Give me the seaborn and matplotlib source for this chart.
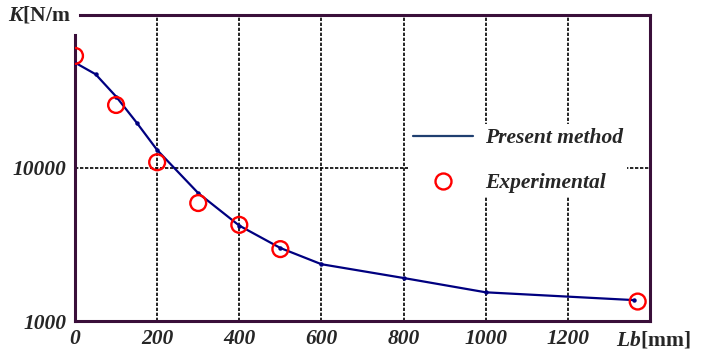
import matplotlib
matplotlib.use("Agg")
import matplotlib.pyplot as plt
from matplotlib.lines import Line2D
import seaborn as sns
import pandas as pd

# Stiffness K versus length Lb
calc_lb = [0, 50, 100, 150, 200, 300, 400, 500, 600, 800, 1000, 1360]
calc_k = [48800, 41000, 29300, 19800, 13100, 6850, 4200, 3000, 2350, 1910, 1540, 1370]

exp_lb = [0, 100, 200, 300, 400, 500, 1370]
exp_k = [54000, 25800, 10900, 5900, 4250, 2950, 1340]

x_ticks = [0, 200, 400, 600, 800, 1000, 1200]
y_ticks = [1000, 10000]
y_tick_labels = ["1000", "10000"]

FS = 15.5

sns.set_theme(style="white")
plt.rcParams["font.family"] = ["Liberation Serif", "DejaVu Serif"]
plt.rcParams["mathtext.fontset"] = "custom"
plt.rcParams["mathtext.rm"] = "Liberation Serif:bold"
plt.rcParams["mathtext.it"] = "Liberation Serif:italic:bold"

fig = plt.figure(figsize=(7.05, 3.56), dpi=100)
ax = fig.add_axes([0.1064, 0.0983, 0.8156, 0.8597])

calc = pd.DataFrame({"Lb": calc_lb, "K": calc_k})
expt = pd.DataFrame({"Lb": exp_lb, "K": exp_k})

sns.lineplot(data=calc, x="Lb", y="K", ax=ax, color="#000080", lw=1.6,
             marker="o", markersize=3.2, markeredgewidth=0, zorder=3)
sns.scatterplot(data=expt, x="Lb", y="K", ax=ax, marker="o", s=130,
                facecolors="none", edgecolor="red", linewidth=1.7, zorder=4)

ax.set_yscale("log")
ax.set_xlim(0, 1400)
ax.set_ylim(1000, 100000)
ax.set_xticks(x_ticks)
ax.set_yticks(y_ticks)
ax.set_yticklabels(y_tick_labels)
ax.minorticks_off()
ax.set_xlabel("")
ax.set_ylabel("")
ax.tick_params(length=0, pad=6)
for lbl in ax.get_xticklabels() + ax.get_yticklabels():
    lbl.set_fontsize(FS)
    lbl.set_fontweight("bold")
    lbl.set_fontstyle("italic")

# dotted grid at the labelled ticks
for xv in x_ticks[1:]:
    ax.axvline(xv, color="black", lw=1.2, ls=(0, (2, 1)), zorder=1)
ax.axhline(10000, color="black", lw=1.2, ls=(0, (2, 1)), zorder=1)

spine_color = "#3a0f3a"
for side in ["left", "right", "top", "bottom"]:
    ax.spines[side].set_color(spine_color)
    ax.spines[side].set_linewidth(2.2)
ax.spines["left"].set_bounds(1000, 74000)
ax.spines["top"].set_bounds(12, 1400)

handles = [
    Line2D([0], [0], color="#1f3f70", lw=1.6),
    Line2D([0], [0], marker="o", ls="", markersize=11.5, markerfacecolor="none",
           markeredgecolor="red", markeredgewidth=1.7),
]
leg = fig.legend(handles, ["Present method", "Experimental"],
                 loc="upper left", bbox_to_anchor=(0.564, 0.682),
                 frameon=True, facecolor="white", edgecolor="none",
                 framealpha=1, handlelength=2.8, handletextpad=0.55,
                 labelspacing=1.15, borderpad=0.2,
                 prop={"size": FS, "weight": "bold", "style": "italic"})

fig.text(0.012, 0.958, r"$K\mathrm{[N/m}$", fontsize=FS, va="center", ha="left")
fig.text(0.979, 0.045, r"$Lb\mathrm{[mm]}$", fontsize=FS, va="center", ha="right")

fig.savefig("out.png", dpi=100)
